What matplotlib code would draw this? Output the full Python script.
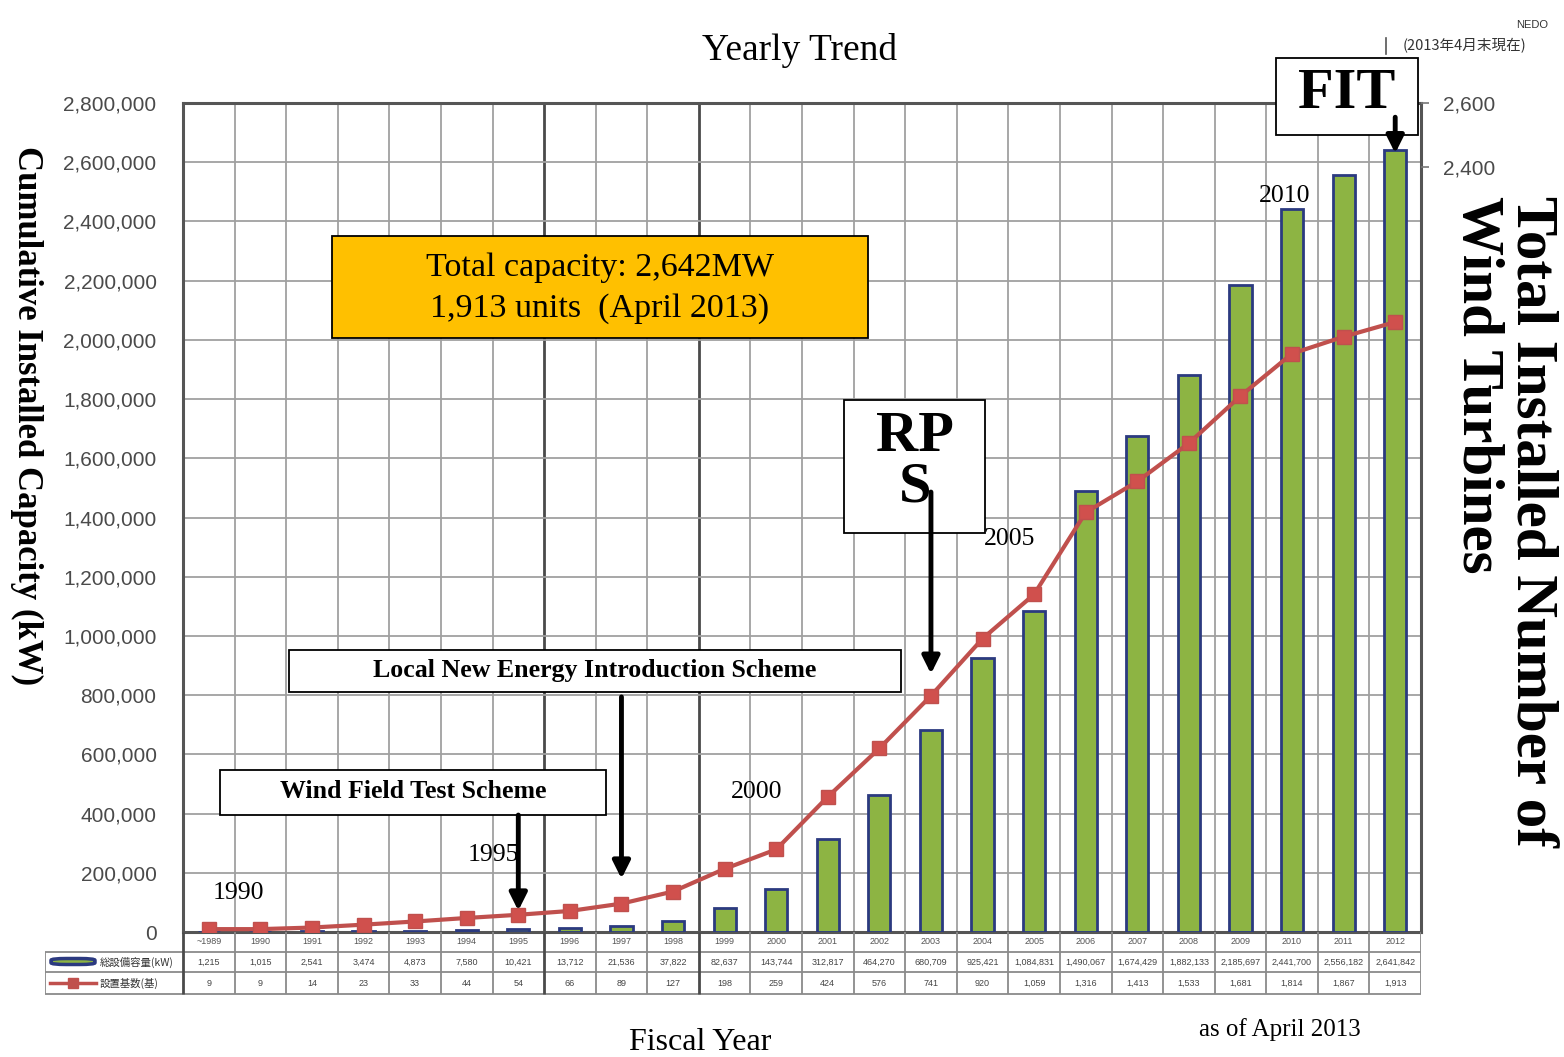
import numpy as np
import matplotlib
matplotlib.use("Agg")
import matplotlib.pyplot as plt
from matplotlib.patches import Rectangle, FancyBboxPatch
from matplotlib.lines import Line2D
from matplotlib.ticker import FuncFormatter

# ---- data -------------------------------------------------------------
years = ["~1989", "1990", "1991", "1992", "1993", "1994", "1995", "1996",
         "1997", "1998", "1999", "2000", "2001", "2002", "2003", "2004",
         "2005", "2006", "2007", "2008", "2009", "2010", "2011", "2012"]
capacity_kw = [1215, 1015, 2541, 3474, 4873, 7580, 10421, 13712, 21536,
               37822, 82637, 143744, 312817, 464270, 680709, 925421,
               1084831, 1490067, 1674429, 1882133, 2185697, 2441700,
               2556182, 2641842]
units = [9, 9, 14, 23, 33, 44, 54, 66, 89, 127, 198, 259, 424, 576, 741,
         920, 1059, 1316, 1413, 1533, 1681, 1814, 1867, 1913]
left_ticks = np.arange(0, 2800001, 200000)
right_ticks = [2400, 2600]

# ---- figure geometry helpers (pixels -> figure fraction) ---------------
W, H = 1564, 1057
fig = plt.figure(figsize=(W / 100, H / 100), dpi=100)


def fx(px):
    return px / W


def fy(py):
    return 1 - py / H


SERIF = "Liberation Serif"
SANS = "Liberation Sans"
CJK = ["Noto Sans CJK JP", "DejaVu Sans"]

BAR_FACE = "#8DB443"
BAR_EDGE = "#2B3A80"
LINE_C = "#C0504D"
GRID_C = "#A0A0A0"
DARK_C = "#555555"

# ---- main axes: cumulative capacity bars ------------------------------
ax = fig.add_axes([fx(183), fy(932), fx(1421) - fx(183), fy(103) - fy(932)])
x = np.arange(len(years))
ax.bar(x, capacity_kw, width=0.43, color=BAR_FACE, edgecolor=BAR_EDGE,
       linewidth=2, zorder=3)
ax.set_xlim(-0.5, len(years) - 0.5)
ax.set_ylim(0, 2800000)
ax.set_yticks(left_ticks)
ax.yaxis.set_major_formatter(FuncFormatter(lambda v, p: f"{int(v):,}"))
ax.set_xticks([])
ax.yaxis.grid(True, color=GRID_C, lw=1.3, zorder=0)
ax.set_axisbelow(True)
for b in np.arange(0.5, len(years) - 0.5, 1):
    dark = b in (6.5, 9.5)
    ax.axvline(b, color="#4A4A4A" if dark else GRID_C,
               lw=2.0 if dark else 1.3, zorder=0)
ax.tick_params(axis="y", length=0, pad=19, labelsize=15, labelcolor="#4A4A4A")
for t in ax.get_yticklabels():
    t.set_fontfamily(SANS)
for side in ("top", "left", "bottom", "right"):
    ax.spines[side].set_color(DARK_C)
    ax.spines[side].set_linewidth(2.2)

# ---- twin axes: number of turbines line --------------------------------
ax2 = ax.twinx()
ax2.set_ylim(0, 2600)
ax2.plot(x, units, color=LINE_C, lw=3, marker="s", ms=10,
         mfc="#D0504D", mec=LINE_C, zorder=4)
ax2.set_yticks(right_ticks)
ax2.yaxis.set_major_formatter(FuncFormatter(lambda v, p: f"{int(v):,}"))
ax2.tick_params(axis="y", length=6, width=1.2, color="#777777", pad=10,
                labelsize=15, labelcolor="#4A4A4A")
for t in ax2.get_yticklabels():
    t.set_fontfamily(SANS)
for side in ("top", "left", "bottom", "right"):
    ax2.spines[side].set_visible(False)

# ---- data table beneath the plot ---------------------------------------
cat_w = (1421 - 183) / len(years)
x_left = -0.5 - (183 - 45) / cat_w
axt = fig.add_axes([fx(45), fy(995), fx(1421) - fx(45), fy(932) - fy(995)])
axt.set_xlim(x_left, len(years) - 0.5)
axt.set_ylim(63, 0)
axt.axis("off")
axt.hlines([20, 40, 62], x_left, len(years) - 0.5, color="#8A8A8A", lw=1.3)
for b in np.arange(-0.5, len(years), 1):
    dark = b in (-0.5, 6.5, 9.5)
    axt.vlines(b, 0, 62, color="#4A4A4A" if dark else "#8A8A8A",
               lw=2.0 if dark else 1.3)
axt.vlines(x_left, 20, 62, color="#8A8A8A", lw=1.3)
for i, yr in enumerate(years):
    axt.text(i, 10, yr, ha="center", va="center", fontsize=6.5,
             color="#555555", family=SANS)
    axt.text(i, 30, f"{capacity_kw[i]:,}", ha="center", va="center",
             fontsize=6.5, color="#444444", family=SANS)
    axt.text(i, 51, f"{units[i]:,}", ha="center", va="center",
             fontsize=6.5, color="#444444", family=SANS)


def tx(px):
    return x_left + (px - 45) / cat_w


axt.add_patch(FancyBboxPatch((tx(51), 26.5), tx(95) - tx(51), 6,
                             boxstyle="round,pad=0,rounding_size=0.3",
                             fc=BAR_FACE, ec=BAR_EDGE, lw=2.5,
                             mutation_aspect=6))
axt.plot([tx(50), tx(96)], [51, 51], color=LINE_C, lw=2.5)
axt.plot([tx(73)], [51], marker="s", ms=7, color=LINE_C)
axt.text(tx(100), 30, "総設備容量(kW)", ha="left", va="center",
         fontsize=7.5, color="#333333", family=CJK)
axt.text(tx(100), 51, "設置基数(基)", ha="left", va="center",
         fontsize=7.5, color="#333333", family=CJK)

# ---- titles and axis labels -------------------------------------------
fig.text(fx(800), fy(50), "Yearly Trend", ha="center", va="center",
         fontsize=27, family=SERIF)
fig.text(fx(27), fy(416), "Cumulative Installed Capacity (kW)",
         rotation=270, ha="center", va="center", fontsize=25,
         fontweight="bold", family=SERIF)
fig.text(fx(1504), fy(196), "Total Installed Number of\nWind Turbines",
         rotation=270, ha="center", va="top", multialignment="left",
         fontsize=42.5, fontweight="bold", family=SERIF, linespacing=1.0)
fig.text(fx(700), fy(1043), "Fiscal Year", ha="center", va="center",
         fontsize=23, family=SERIF)
fig.text(fx(1280), fy(1030), "as of April 2013", ha="center", va="center",
         fontsize=18, family=SERIF)
fig.text(fx(1532), fy(25), "NEDO", ha="center", va="center", fontsize=8,
         family=SANS, color="#333333")
fig.text(fx(1465), fy(46), "(2013年4月末現在)", ha="center", va="center",
         fontsize=10.5, family=CJK, color="#333333")
fig.add_artist(Line2D([fx(1386), fx(1386)], [fy(38), fy(54)],
                      color="#555555", lw=1.2))

# ---- year markers above the series -------------------------------------
for label, (px, py) in {"1990": (238, 893), "1995": (493, 855),
                        "2000": (757, 792), "2005": (1010, 539),
                        "2010": (1285, 196)}.items():
    ax2.text(fx(px), fy(py), label, transform=fig.transFigure, ha="center",
             va="center", fontsize=18.5, family=SERIF, zorder=6)

# ---- policy boxes and arrows -------------------------------------------


def box(x0, y0, x1, y1, fc="white"):
    ax2.add_patch(Rectangle((fx(x0), fy(y1)), fx(x1) - fx(x0),
                            fy(y0) - fy(y1), transform=fig.transFigure,
                            fc=fc, ec="black", lw=1.3, clip_on=False,
                            zorder=5))


box(332, 236, 868, 338, fc="#FFC000")
ax2.text(fx(600), fy(268), "Total capacity: 2,642MW",
         transform=fig.transFigure, ha="center", va="center", fontsize=24.5,
         family=SERIF, zorder=6)
ax2.text(fx(600), fy(309), "1,913 units  (April 2013)",
         transform=fig.transFigure, ha="center", va="center", fontsize=24.5,
         family=SERIF, zorder=6)

box(289, 650, 901, 692)
ax2.text(fx(595), fy(670), "Local New Energy Introduction Scheme",
         transform=fig.transFigure, ha="center", va="center", fontsize=18.6,
         fontweight="bold", family=SERIF, zorder=6)

box(220, 770, 606, 815)
ax2.text(fx(413), fy(792), "Wind Field Test Scheme",
         transform=fig.transFigure, ha="center", va="center", fontsize=18.6,
         fontweight="bold", family=SERIF, zorder=6)

box(844, 400, 985, 533)
ax2.text(fx(915), fy(462), "RP\nS", transform=fig.transFigure,
         ha="center", va="center", fontsize=42, fontweight="bold",
         family=SERIF, linespacing=0.95, zorder=6)

box(1276, 58, 1418, 135)
ax2.text(fx(1347), fy(94), "FIT", transform=fig.transFigure,
         ha="center", va="center", fontsize=42, fontweight="bold",
         family=SERIF, zorder=6)

arrow_kw = dict(arrowstyle="-|>", color="black", lw=3.5, mutation_scale=26,
                shrinkA=0, shrinkB=0)
# (category index, start kW, end kW)
for idx, y_from, y_to in [(6, 395000, 72000), (8, 794000, 180000),
                          (14, 1486000, 872000), (23, 2752000, 2630000)]:
    ax2.annotate("", xy=(idx, y_to), xytext=(idx, y_from),
                 xycoords=ax.transData, textcoords=ax.transData,
                 arrowprops=arrow_kw, annotation_clip=False, zorder=7)

fig.savefig("out.png", dpi=100, facecolor="white")
